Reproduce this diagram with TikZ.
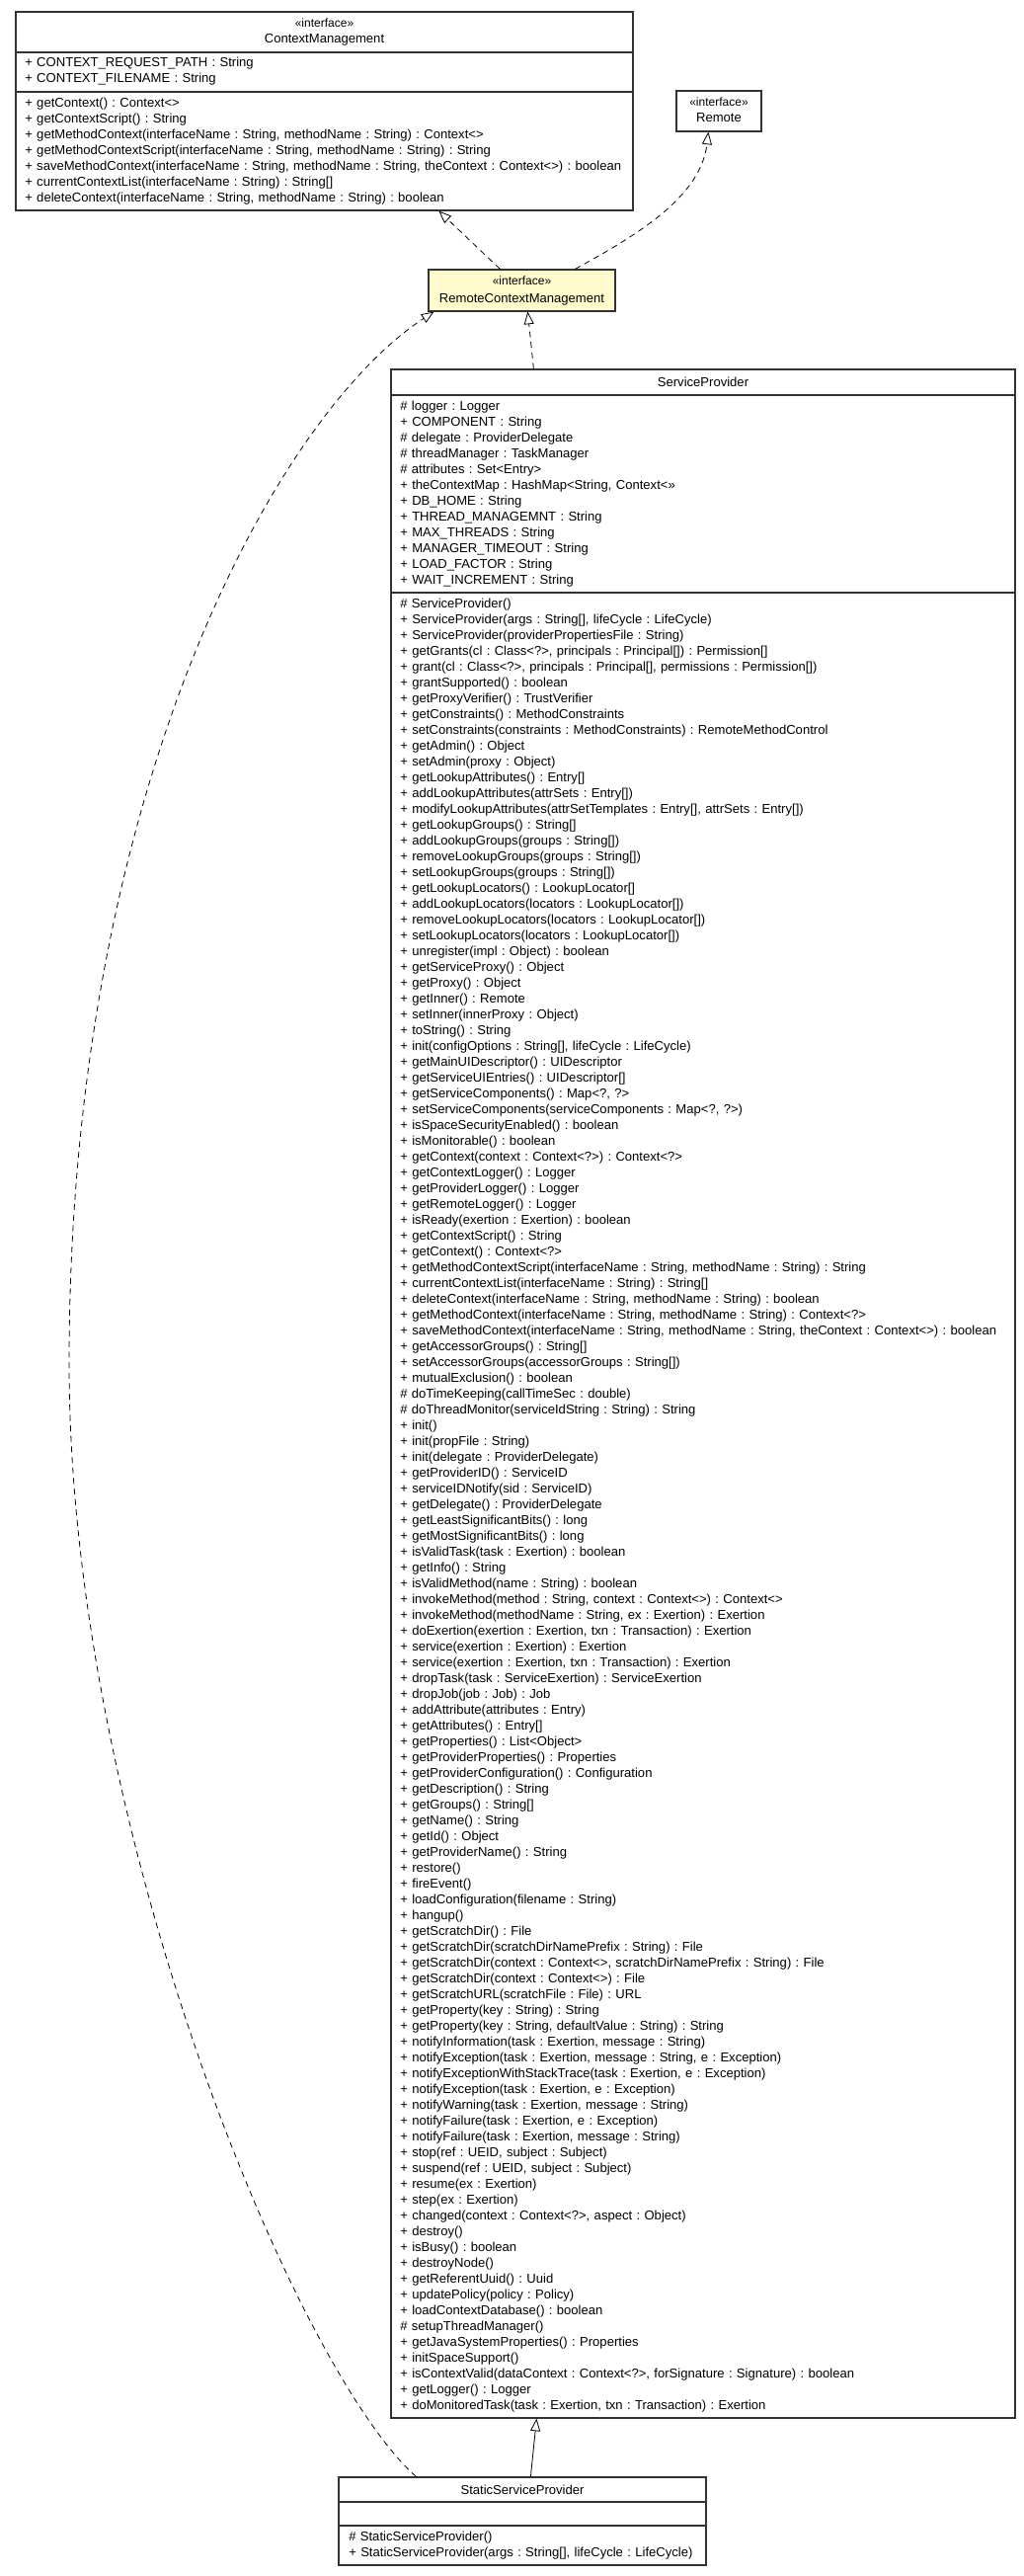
\documentclass[tikz,border=0pt]{standalone}
\usepackage{fontspec}
\setmainfont{Liberation Sans}
\usetikzlibrary{arrows.meta,fit}
\definecolor{rcmfill}{HTML}{FFFBCD}
\definecolor{boxline}{HTML}{333333}
\newcommand\fs{\fontsize{9.8}{12}\selectfont\frenchspacing\spaceskip=4pt\relax}
\newcommand\fst{\fontsize{9}{10}\selectfont\frenchspacing}
\newcommand\lstrut{\rule{0pt}{9pt}}
\begin{document}
\begin{tikzpicture}[x=0.75pt,y=-0.75pt,
  classbox/.style={draw=boxline, line width=0.9pt, inner sep=0pt},
  sepline/.style={draw=boxline, line width=0.9pt},
  members/.style={anchor=north west, inner sep=0pt, align=left, text width=480pt, font=\fs, execute at begin node={\setlength{\parindent}{0pt}}},
  title/.style={anchor=base, inner sep=0pt, font=\fs},
  stereo/.style={anchor=base, inner sep=0pt, font=\fst},
  realize/.style={line width=0.6pt, dash pattern=on 4.5pt off 3.5pt, -{Triangle[open, length=9.5pt, width=7.5pt, line width=0.6pt]}},
  inherit/.style={line width=0.6pt, -{Triangle[open, length=9.5pt, width=7.5pt, line width=0.6pt]}}
]
\useasboundingbox (0,0) rectangle (1036,2608);
\fill[white] (0,0) rectangle (1036,2608);

% ContextManagement
\node[classbox, fit={(16,12) (641,213)}] (cm) {};
\node[stereo] (cmst) at (328.5,27.5) {«interface»};
\node[title] (cmt) at (328.5,43.5) {ContextManagement};
\draw[sepline] (16,53) -- (641,53);
\draw[sepline] (16,93) -- (641,93);
\node[members] (cma) at (25,55.5) {\lstrut+ CONTEXT\_REQUEST\_PATH : String\\
+ CONTEXT\_FILENAME : String};
\node[members] (cmm) at (25,96.5) {\lstrut+ getContext() : Context<>\\
+ getContextScript() : String\\
+ getMethodContext(interfaceName : String, methodName : String) : Context<>\\
+ getMethodContextScript(interfaceName : String, methodName : String) : String\\
+ saveMethodContext(interfaceName : String, methodName : String, theContext : Context<>) : boolean\\
+ currentContextList(interfaceName : String) : String[]\\
+ deleteContext(interfaceName : String, methodName : String) : boolean};

% Remote
\node[classbox, fit={(685,92) (771,133)}] (remote) {};
\node[stereo] (remst) at (728,107.5) {«interface»};
\node[title] (remt) at (728,123.5) {Remote};

% RemoteContextManagement
\node[classbox, fill=rcmfill, fit={(434,273) (623,315)}] (rcm) {};
\node[stereo] (rcmst) at (528.5,288.5) {«interface»};
\node[title] (rcmt) at (528.5,306.5) {RemoteContextManagement};

% ServiceProvider
\node[classbox, fit={(396,374) (1028,2448)}] (sp) {};
\node[title] (spt) at (712,391.5) {ServiceProvider};
\draw[sepline] (396,400) -- (1028,400);
\draw[sepline] (396,600) -- (1028,600);
\node[members] (spa) at (405,403.5) {\lstrut\# logger : Logger\\
+ COMPONENT : String\\
\# delegate : ProviderDelegate\\
\# threadManager : TaskManager\\
\# attributes : Set<Entry>\\
+ theContextMap : HashMap<String, Context<>>\\
+ DB\_HOME : String\\
+ THREAD\_MANAGEMNT : String\\
+ MAX\_THREADS : String\\
+ MANAGER\_TIMEOUT : String\\
+ LOAD\_FACTOR : String\\
+ WAIT\_INCREMENT : String};
\node[members] (spm1) at (405,603.5) {\lstrut\# ServiceProvider()\\
+ ServiceProvider(args : String[], lifeCycle : LifeCycle)\\
+ ServiceProvider(providerPropertiesFile : String)\\
+ getGrants(cl : Class<?>, principals : Principal[]) : Permission[]\\
+ grant(cl : Class<?>, principals : Principal[], permissions : Permission[])\\
+ grantSupported() : boolean\\
+ getProxyVerifier() : TrustVerifier\\
+ getConstraints() : MethodConstraints\\
+ setConstraints(constraints : MethodConstraints) : RemoteMethodControl\\
+ getAdmin() : Object\\
+ setAdmin(proxy : Object)\\
+ getLookupAttributes() : Entry[]\\
+ addLookupAttributes(attrSets : Entry[])\\
+ modifyLookupAttributes(attrSetTemplates : Entry[], attrSets : Entry[])\\
+ getLookupGroups() : String[]\\
+ addLookupGroups(groups : String[])\\
+ removeLookupGroups(groups : String[])\\
+ setLookupGroups(groups : String[])\\
+ getLookupLocators() : LookupLocator[]\\
+ addLookupLocators(locators : LookupLocator[])\\
+ removeLookupLocators(locators : LookupLocator[])\\
+ setLookupLocators(locators : LookupLocator[])\\
+ unregister(impl : Object) : boolean\\
+ getServiceProxy() : Object\\
+ getProxy() : Object\\
+ getInner() : Remote\\
+ setInner(innerProxy : Object)\\
+ toString() : String\\
+ init(configOptions : String[], lifeCycle : LifeCycle)\\
+ getMainUIDescriptor() : UIDescriptor};
\node[members] (spm2) at (405,1083.5) {\lstrut+ getServiceUIEntries() : UIDescriptor[]\\
+ getServiceComponents() : Map<?, ?>\\
+ setServiceComponents(serviceComponents : Map<?, ?>)\\
+ isSpaceSecurityEnabled() : boolean\\
+ isMonitorable() : boolean\\
+ getContext(context : Context<?>) : Context<?>\\
+ getContextLogger() : Logger\\
+ getProviderLogger() : Logger\\
+ getRemoteLogger() : Logger\\
+ isReady(exertion : Exertion) : boolean\\
+ getContextScript() : String\\
+ getContext() : Context<?>\\
+ getMethodContextScript(interfaceName : String, methodName : String) : String\\
+ currentContextList(interfaceName : String) : String[]\\
+ deleteContext(interfaceName : String, methodName : String) : boolean\\
+ getMethodContext(interfaceName : String, methodName : String) : Context<?>\\
+ saveMethodContext(interfaceName : String, methodName : String, theContext : Context<>) : boolean\\
+ getAccessorGroups() : String[]\\
+ setAccessorGroups(accessorGroups : String[])\\
+ mutualExclusion() : boolean\\
\# doTimeKeeping(callTimeSec : double)\\
\# doThreadMonitor(serviceIdString : String) : String\\
+ init()\\
+ init(propFile : String)\\
+ init(delegate : ProviderDelegate)\\
+ getProviderID() : ServiceID\\
+ serviceIDNotify(sid : ServiceID)\\
+ getDelegate() : ProviderDelegate\\
+ getLeastSignificantBits() : long\\
+ getMostSignificantBits() : long};
\node[members] (spm3) at (405,1563.5) {\lstrut+ isValidTask(task : Exertion) : boolean\\
+ getInfo() : String\\
+ isValidMethod(name : String) : boolean\\
+ invokeMethod(method : String, context : Context<>) : Context<>\\
+ invokeMethod(methodName : String, ex : Exertion) : Exertion\\
+ doExertion(exertion : Exertion, txn : Transaction) : Exertion\\
+ service(exertion : Exertion) : Exertion\\
+ service(exertion : Exertion, txn : Transaction) : Exertion\\
+ dropTask(task : ServiceExertion) : ServiceExertion\\
+ dropJob(job : Job) : Job\\
+ addAttribute(attributes : Entry)\\
+ getAttributes() : Entry[]\\
+ getProperties() : List<Object>\\
+ getProviderProperties() : Properties\\
+ getProviderConfiguration() : Configuration\\
+ getDescription() : String\\
+ getGroups() : String[]\\
+ getName() : String\\
+ getId() : Object\\
+ getProviderName() : String\\
+ restore()\\
+ fireEvent()\\
+ loadConfiguration(filename : String)\\
+ hangup()\\
+ getScratchDir() : File\\
+ getScratchDir(scratchDirNamePrefix : String) : File\\
+ getScratchDir(context : Context<>, scratchDirNamePrefix : String) : File\\
+ getScratchDir(context : Context<>) : File\\
+ getScratchURL(scratchFile : File) : URL\\
+ getProperty(key : String) : String};
\node[members] (spm4) at (405,2043.5) {\lstrut+ getProperty(key : String, defaultValue : String) : String\\
+ notifyInformation(task : Exertion, message : String)\\
+ notifyException(task : Exertion, message : String, e : Exception)\\
+ notifyExceptionWithStackTrace(task : Exertion, e : Exception)\\
+ notifyException(task : Exertion, e : Exception)\\
+ notifyWarning(task : Exertion, message : String)\\
+ notifyFailure(task : Exertion, e : Exception)\\
+ notifyFailure(task : Exertion, message : String)\\
+ stop(ref : UEID, subject : Subject)\\
+ suspend(ref : UEID, subject : Subject)\\
+ resume(ex : Exertion)\\
+ step(ex : Exertion)\\
+ changed(context : Context<?>, aspect : Object)\\
+ destroy()\\
+ isBusy() : boolean\\
+ destroyNode()\\
+ getReferentUuid() : Uuid\\
+ updatePolicy(policy : Policy)\\
+ loadContextDatabase() : boolean\\
\# setupThreadManager()\\
+ getJavaSystemProperties() : Properties\\
+ initSpaceSupport()\\
+ isContextValid(dataContext : Context<?>, forSignature : Signature) : boolean\\
+ getLogger() : Logger\\
+ doMonitoredTask(task : Exertion, txn : Transaction) : Exertion};

% StaticServiceProvider
\node[classbox, fit={(343,2508) (715,2597)}] (ssp) {};
\node[title] (sspt) at (529,2525) {StaticServiceProvider};
\draw[sepline] (343,2533) -- (715,2533);
\draw[sepline] (343,2557) -- (715,2557);
\node[members] (sspm) at (353,2560.5) {\lstrut\# StaticServiceProvider()\\
+ StaticServiceProvider(args : String[], lifeCycle : LifeCycle)};

% connectors
\coordinate (bend) at (70,1380);
\draw[realize] ([shift={(73,0)}]rcm.north west) -- ([shift={(429,0)}]cm.south west);
\draw[realize] ([shift={(149,0)}]rcm.north west) .. controls +(60,-33) and +(-8,67) .. ([shift={(33,0)}]remote.south west);
\draw[realize] ([shift={(145,0)}]sp.north west) -- ([shift={(101,0)}]rcm.south west);
\draw[realize] ([shift={(79,0)}]ssp.north west) .. controls (300,2400) and (70,1850) .. (bend)
   .. controls (70,800) and (280,420) .. ([shift={(6,0)}]rcm.south west);
\draw[inherit] ([shift={(195,0)}]ssp.north west) -- ([shift={(148,0)}]sp.south west);
\end{tikzpicture}
\end{document}
